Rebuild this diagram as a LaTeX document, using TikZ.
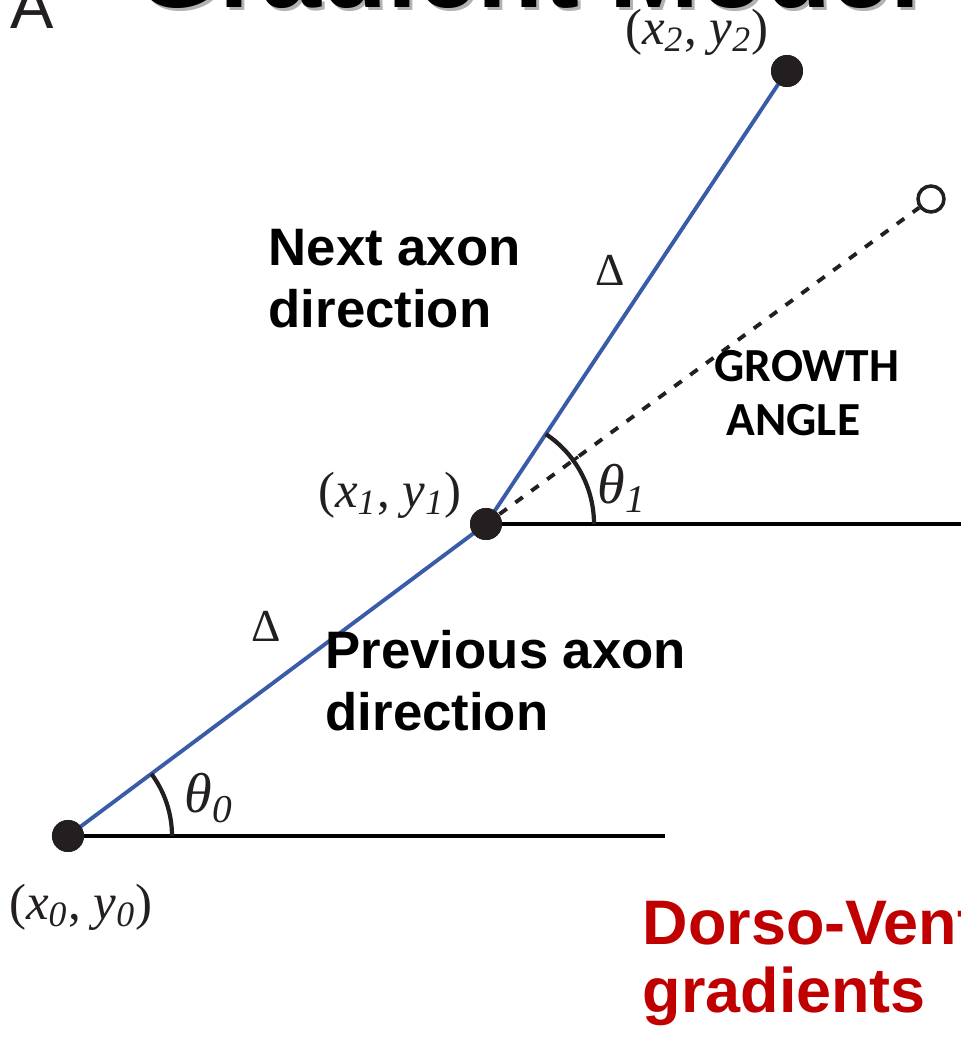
\documentclass[tikz,border=0pt]{standalone}
\usepackage{fontspec}
\setmainfont{Liberation Serif}
\newfontfamily\arialfont{Liberation Sans}
\newfontfamily\calibrifont{Carlito}
\usepackage{tikz}

\definecolor{axonblue}{RGB}{58,91,168}
\definecolor{inkblack}{RGB}{35,31,32}
\definecolor{gradred}{RGB}{192,0,0}

\newcommand{\xylabel}[1]{(\textit{x}\textsubscript{\textit{#1}}, \textit{y}\textsubscript{\textit{#1}})}
\newcommand{\anglabel}[1]{\textit{θ}\textsubscript{\textit{#1}}}

\begin{document}
\begin{tikzpicture}[
  dot/.style={circle, fill=inkblack, inner sep=0pt, minimum size=0.32cm},
  opendot/.style={circle, draw=inkblack, line width=1pt, fill=white, inner sep=0pt, minimum size=0.26cm},
  axon/.style={axonblue, line width=1.1pt},
  horizline/.style={black, line width=1.2pt},
  anglearc/.style={inkblack, line width=1.2pt},
  coordtext/.style={inkblack, font=\fontsize{14.5}{17}\selectfont, inner sep=0pt},
  boldtext/.style={font=\arialfont\bfseries\fontsize{15}{17.9}\selectfont, align=left, inner sep=0pt}
]
\useasboundingbox (0,0) rectangle (9.61,10.47);
\clip (0,0) rectangle (9.61,10.47);

% Title (cut off)
\node[anchor=base west, inner sep=0pt, text=black!30, font=\arialfont\bfseries\fontsize{30.7}{34}\selectfont] (titleshadow) at (1.38,10.36) {Gradient Model};
\node[anchor=base west, inner sep=0pt, font=\arialfont\bfseries\fontsize{30.7}{34}\selectfont] (title) at (1.35,10.39) {Gradient Model};
\node[anchor=base west, inner sep=0pt, text=inkblack, font=\arialfont\fontsize{18.5}{20}\selectfont] (panel) at (0.10,10.18) {A};

% Points
\coordinate (h0) at (6.65,2.11);
\coordinate (h1) at (9.75,5.23);
\node[dot] (p0) at (0.68,2.11) {};
\node[dot] (p1) at (4.86,5.23) {};
\node[dot] (p2) at (7.87,9.76) {};
\node[opendot] (tip) at (9.31,8.48) {};

% Lines
\draw[horizline] (p0.center) -- (h0);
\draw[horizline] (p1.center) -- (h1);
\draw[inkblack, line width=1.1pt, dash pattern=on 2.6pt off 3pt] (p1) -- (tip);
\draw[axon] (p0.center) -- (p1.center);
\draw[axon] (p1.center) -- (p2.center);
\node[dot] at (p0) {};
\node[dot] at (p1) {};
\node[dot] at (p2) {};

% Angles
\draw[anglearc] (p0.center) ++(1.04,0) arc[start angle=0, end angle=36.7, radius=1.04];
\draw[anglearc] (p1.center) ++(1.08,0) arc[start angle=0, end angle=56.4, radius=1.08];
\draw[anglearc, line width=0.9pt] (p1.center) ++(36.1:1.06) -- ++(36.1:0.08);

% Labels
\node[coordtext] (l2) at (6.97,10.15) {\xylabel{2}};
\node[coordtext] (l1) at (3.90,5.52) {\xylabel{1}};
\node[coordtext] (l0) at (0.81,1.40) {\xylabel{0}};
\node[coordtext, font=\fontsize{16}{18}\selectfont] (t1) at (6.22,5.59) {\anglabel{1}};
\node[coordtext, font=\fontsize{16}{18}\selectfont] (t0) at (2.09,2.49) {\anglabel{0}};
\node[coordtext, font=\fontsize{13}{15}\selectfont] (d2) at (6.10,7.77) {Δ};
\node[coordtext, font=\fontsize{13}{15}\selectfont] (d1) at (2.66,4.21) {Δ};
\node[boldtext, anchor=base west] (next) at (2.68,7.19) {Next axon\\direction};
\node[boldtext, anchor=base west] (prev) at (3.25,3.16) {Previous axon\\direction};
\node[font=\calibrifont\bfseries\fontsize{13.5}{15.6}\selectfont, align=left, inner sep=0pt, anchor=base west] (growth) at (7.14,6.11) {GROWTH\\\hspace*{0.12cm}ANGLE};
\node[anchor=base west, inner sep=0pt, text=gradred, align=left, font=\arialfont\bfseries\fontsize{17.9}{19.4}\selectfont] (dv) at (6.42,0.34) {Dorso-Ventral\\gradients};

\end{tikzpicture}
\end{document}
